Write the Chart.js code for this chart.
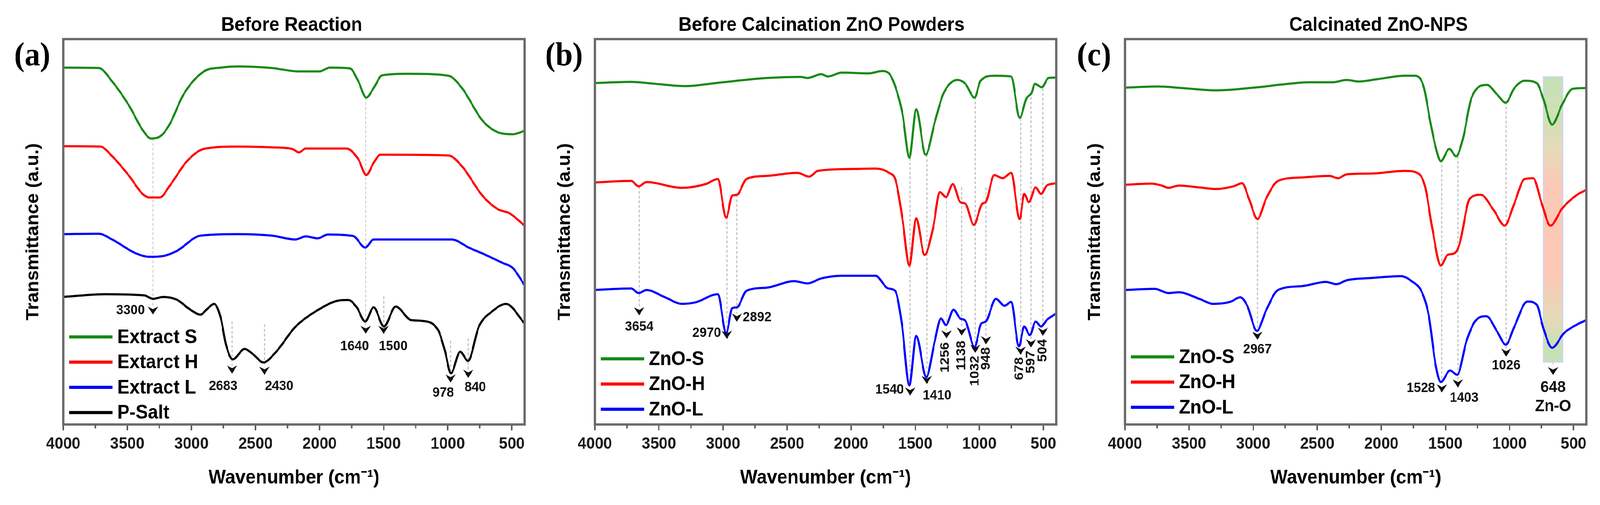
<!DOCTYPE html>
<html>
<head>
<meta charset="utf-8">
<script src="https://cdn.jsdelivr.net/npm/chart.js@4.4.1/dist/chart.umd.min.js"></script>
<style>
html, body { margin: 0; padding: 0; background: #fff; overflow: hidden; }
#page { position: absolute; left: 0; top: 0; width: 4352px; height: 1292px; transform-origin: 0 0; }
.panel { position: absolute; top: 0; width: 1446px; height: 1292px; }
</style>
</head>
<body>
<div id="page">
<div class="panel" style="left:0px"><canvas id="chartA"></canvas></div>
<div class="panel" style="left:1446px"><canvas id="chartB"></canvas></div>
<div class="panel" style="left:2888px"><canvas id="chartC"></canvas></div>
</div>
<script>
// the window is narrower than 4352, so stretch the layout onto the real viewport
var fitX = window.innerWidth / 4352, fitY = window.innerHeight / 1292;
document.getElementById('page').style.transform = 'scale(' + fitX + ',' + fitY + ')';

// ---- axis ticks ----
var xTicks = [4000, 3500, 3000, 2500, 2000, 1500, 1000, 500];
var xMinorTicks = [3750, 3250, 2750, 2250, 1750, 1250, 750];

// ---- (a) Before Reaction ----
var labelsA = ['Extract S', 'Extarct H', 'Extract L', 'P-Salt'];
var wnExtS = [4000, 3724, 3618, 3486, 3380, 3314, 3234, 3168, 3062, 2903, 2770, 2638, 2373, 2161, 2002, 1920, 1763, 1697, 1636, 1578, 1512, 1313, 995, 889, 730, 598, 492, 400];
var tExtS  = [92.6, 92.5, 89, 82.7, 76.4, 74.2, 75, 78, 85.6, 91.6, 92.6, 92.9, 92.5, 91.6, 91.6, 92.6, 92.4, 89, 84.8, 87.3, 90.6, 91, 90.5, 87.3, 78.9, 75.7, 75.3, 76.2];
var wnExtH = [4000, 3711, 3618, 3486, 3380, 3327, 3247, 3168, 3035, 2903, 2638, 2373, 2214, 2161, 2108, 1790, 1697, 1636, 1578, 1525, 995, 889, 730, 611, 518, 400];
var tExtH  = [72.2, 72.1, 69.6, 64.5, 59.8, 58.9, 58.9, 62, 68.3, 71.5, 72.1, 71.9, 71.5, 70.6, 71.6, 71.6, 68.8, 64.7, 67.9, 70, 69.8, 67, 59.4, 55.9, 54.8, 51.6];
var wnExtL = [4000, 3724, 3618, 3433, 3327, 3221, 3115, 2929, 2638, 2373, 2188, 2108, 2015, 1935, 1737, 1644, 1578, 968, 836, 704, 571, 492, 400];
var tExtL  = [49.4, 49.5, 48, 44.4, 43.5, 43.7, 45, 49, 49.4, 49, 48, 48.8, 48.3, 49.3, 48.9, 45.9, 48, 48, 45.9, 44, 41.9, 40.6, 36.1];
var wnPSalt = [4000, 3671, 3367, 3300, 3221, 3115, 3009, 2929, 2876, 2823, 2770, 2730, 2677, 2585, 2518, 2439, 2346, 2187, 2028, 1843, 1776, 1710, 1644, 1578, 1498, 1406, 1287, 1207, 1075, 1022, 975, 903, 842, 757, 651, 545, 400];
var tPSalt  = [33.1, 33.8, 33.5, 32.6, 33.1, 32.4, 29.8, 28.5, 30, 31.3, 27.5, 20.7, 16.9, 19.6, 18.2, 16.1, 18.6, 25.4, 29.4, 32.2, 32.3, 30.4, 26.7, 30.4, 25.4, 30.6, 27.1, 26.9, 24.5, 19.1, 13.3, 18.9, 16.5, 25.4, 29.4, 31.3, 26.2];

// ---- (b) Before Calcination ZnO Powders ----
var labelsZnO = ['ZnO-S', 'ZnO-H', 'ZnO-L'];
var wnPowS = [4000, 3717, 3531, 3293, 3055, 2658, 2393, 2340, 2234, 2181, 2075, 1863, 1758, 1705, 1652, 1599, 1546, 1493, 1419, 1348, 1281, 1170, 1109, 1038, 990, 884, 752, 685, 633, 593, 567, 513, 460, 400];
var tPowS  = [88.6, 88.9, 88.4, 87.8, 88.6, 89.9, 90.2, 89.9, 90.9, 90.3, 91.3, 91.1, 91.7, 91.1, 87.3, 80.5, 69.2, 81.8, 70, 78.4, 85.8, 89.4, 88.4, 84.8, 89.2, 90.5, 90.3, 79.6, 84.6, 86, 88.4, 87.5, 89.9, 90];
var wnPowH = [4000, 3717, 3658, 3598, 3320, 3134, 3041, 2975, 2928, 2891, 2817, 2658, 2420, 2327, 2261, 1997, 1811, 1705, 1652, 1599, 1546, 1493, 1427, 1361, 1308, 1260, 1207, 1149, 1109, 1043, 977, 950, 884, 817, 752, 685, 650, 614, 561, 519, 474, 400];
var tPowH  = [62.8, 63.2, 61.8, 62.9, 61.4, 62.4, 63.7, 53.7, 59.4, 59.6, 63.7, 64.5, 65.3, 64.3, 65.8, 66.3, 66.4, 65.3, 63.2, 53.1, 41.2, 53.5, 44, 51, 60.3, 59, 62.4, 57.7, 57.3, 51.8, 57.3, 57.7, 64.7, 63.9, 65.3, 53.3, 59.8, 57.7, 61.5, 59.8, 62, 62.6];
var wnPowL = [4000, 3717, 3658, 3598, 3452, 3320, 3214, 3041, 2975, 2928, 2891, 2817, 2658, 2446, 2340, 2234, 2075, 1811, 1711, 1658, 1605, 1546, 1493, 1414, 1348, 1300, 1260, 1202, 1149, 1109, 1038, 985, 950, 871, 804, 752, 691, 650, 606, 561, 519, 474, 400];
var tPowL  = [34.9, 35.3, 34.1, 34.9, 33, 31.3, 31.7, 33.8, 23.7, 30.2, 30.4, 34.7, 35.5, 37.2, 36.6, 37.9, 38.6, 38.6, 35.3, 34.7, 26.2, 10.1, 23, 12.3, 21.6, 27.5, 25.8, 29.8, 27.5, 26.9, 20.1, 26.2, 26.7, 32.6, 30.8, 31.8, 20.3, 25.4, 23.2, 26.7, 25.4, 27.1, 28.8];

// ---- (c) Calcinated ZnO-NPS ----
var wnNpS = [4000, 3741, 3554, 3287, 2966, 2779, 2565, 2378, 2271, 2178, 2031, 1817, 1737, 1670, 1617, 1577, 1536, 1470, 1416, 1363, 1296, 1176, 1096, 1029, 962, 882, 788, 735, 668, 588, 508, 400];
var tNpS  = [87.4, 87.7, 87.3, 86.7, 87.5, 88.2, 88.8, 88.8, 89.4, 89, 89.6, 90.5, 90.5, 87.7, 78.4, 72.1, 68.3, 71.5, 69.6, 74.2, 84.8, 88.1, 85.6, 83.5, 87.3, 89.2, 88.6, 84.4, 77.8, 83.1, 87.1, 87.3];
var wnNpH = [4000, 3794, 3714, 3661, 3580, 3420, 3287, 3153, 3086, 3033, 2966, 2899, 2806, 2619, 2405, 2338, 2271, 2084, 1817, 1710, 1657, 1603, 1536, 1483, 1430, 1390, 1310, 1224, 1123, 1038, 963, 882, 815, 748, 681, 588, 481, 400];
var tNpH  = [62.2, 62.5, 62, 61.4, 62, 61.5, 61.1, 61.8, 62.6, 58.6, 53.3, 58.6, 63.2, 64.1, 64.5, 63.9, 64.9, 65.1, 65.8, 65.1, 61.5, 51, 41.2, 44, 44.4, 46.8, 58.6, 59.6, 55.6, 51.6, 57.3, 63.7, 63.9, 57.3, 51.6, 56.1, 59.4, 60.9];
var wnNpL = [4000, 3768, 3661, 3580, 3420, 3313, 3180, 3100, 3046, 2971, 2899, 2806, 2619, 2432, 2351, 2271, 2084, 1844, 1764, 1683, 1630, 1577, 1536, 1464, 1408, 1336, 1270, 1181, 1096, 1029, 962, 861, 788, 735, 668, 575, 481, 400];
var tNpL  = [34.9, 35.2, 34.1, 34.3, 32.6, 31.3, 31.8, 33, 30.8, 24.3, 29.6, 34.9, 35.9, 37, 36.4, 37.4, 38, 38.5, 37.2, 34.3, 28.3, 15.6, 11, 14, 12.9, 21.6, 26.7, 28.1, 24.1, 20.7, 25.4, 31.9, 31.1, 24.9, 19.9, 23.7, 25.8, 27.1];

var GREEN = '#178a17', RED = '#ff0000', BLUE = '#0000ff', BLACK = '#000000';
var FONT = '"Liberation Sans", Arial, sans-serif';

// peak markers: wn, dashed line from/to (transmittance units), label placement
var marksA = [
    {wn: 3300, from: 74.2, tip: 29.6, text: '3300', ty: 29.6, dx: -22, align: 'right'},
    {wn: 2683, from: 26.7, tip: 14.3, text: '2683', ty: 9.9, dx: -24, align: 'center'},
    {wn: 2430, from: 26, tip: 14, text: '2430', ty: 9.9, dx: 40, align: 'center'},
    {wn: 1640, from: 84.8, tip: 24.6, text: '1640', ty: 20.2, dx: -30, align: 'center'},
    {wn: 1500, from: 33.3, tip: 24.6, text: '1500', ty: 20.2, dx: 26, align: 'center'},
    {wn: 978, from: 21.7, tip: 12, text: '978', ty: 8.2, dx: -20, align: 'center'},
    {wn: 840, from: 22.3, tip: 13.2, text: '840', ty: 9.6, dx: 19, align: 'center'}
];
var marksB = [
    {wn: 3654, from: 61.8, tip: 29.4, text: '3654', ty: 25.3, dx: 0, align: 'center'},
    {wn: 2970, from: 53.8, tip: 23.3, text: '2970', ty: 23.7, dx: -16, align: 'right'},
    {wn: 2892, from: 59.6, tip: 27.8, text: '2892', ty: 27.8, dx: 16, align: 'left'},
    {wn: 1540, from: 69.2, tip: 8.6, text: '1540', ty: 9, dx: -17, align: 'right'},
    {wn: 1410, from: 70, tip: 11.6, text: '1410', ty: 7.5, dx: 28, align: 'center'},
    {wn: 1256, from: 59.1, tip: 23.4, text: '1256', ty: 17.4, dx: -3, rot: true},
    {wn: 1138, from: 61.5, tip: 24.2, text: '1138', ty: 17.9, dx: 0, rot: true},
    {wn: 1032, from: 85, tip: 19.7, text: '1032', ty: 13.9, dx: 0, rot: true},
    {wn: 948, from: 61.5, tip: 21.9, text: '948', ty: 17.1, dx: 0, rot: true},
    {wn: 678, from: 79.5, tip: 19.2, text: '678', ty: 14.5, dx: -3, rot: true},
    {wn: 597, from: 85, tip: 21.1, text: '597', ty: 16.2, dx: 0, rot: true},
    {wn: 504, from: 87.2, tip: 24.1, text: '504', ty: 19.2, dx: 0, rot: true}
];
var marksC = [
    {wn: 2967, from: 53.7, tip: 23.1, text: '2967', ty: 19.4, dx: 0, align: 'center'},
    {wn: 1528, from: 68.6, tip: 9.4, text: '1528', ty: 9.4, dx: -18, align: 'right'},
    {wn: 1403, from: 69.6, tip: 10.7, text: '1403', ty: 6.9, dx: 17, align: 'center'},
    {wn: 1026, from: 83.7, tip: 18.7, text: '1026', ty: 15.3, dx: 0, align: 'center'},
    {wn: 660, from: 16.2, tip: 13.9, text: '648', ty: 9.6, dx: 0, align: 'center', size: 41},
    {wn: 660, text: 'Zn-O', ty: 4.6, dx: 0, align: 'center', size: 42}
];
var bandC = {from: 735, to: 585, top: 90.2, bottom: 16.2};

function drawArrow(ctx, x, y) {
    ctx.beginPath();
    ctx.moveTo(x - 14, y - 10);
    ctx.lineTo(x, y - 3);
    ctx.lineTo(x + 14, y - 10);
    ctx.lineTo(x, y + 11);
    ctx.closePath();
    ctx.fill();
}

function makeDeco(cfg) {
    return {
        id: 'deco' + cfg.letter,
        beforeDatasetsDraw: function(chart) {
            var ctx = chart.ctx, xs = chart.scales.x, ys = chart.scales.y;
            ctx.save();
            if (cfg.band) {
                var b = cfg.band;
                var x0 = xs.getPixelForValue(b.from), x1 = xs.getPixelForValue(b.to);
                var y0 = ys.getPixelForValue(b.top), y1 = ys.getPixelForValue(b.bottom);
                var g = ctx.createLinearGradient(0, y0, 0, y1);
                g.addColorStop(0, '#c6e0b6');
                g.addColorStop(0.12, '#cde0b6');
                g.addColorStop(0.25, '#e6dab8');
                g.addColorStop(0.38, '#fbc9b6');
                g.addColorStop(0.7, '#fbc9b6');
                g.addColorStop(0.85, '#e3dab8');
                g.addColorStop(0.94, '#c9e0b6');
                g.addColorStop(1, '#c6e0b6');
                ctx.fillStyle = g;
                ctx.fillRect(x0, y0, x1 - x0, y1 - y0);
                ctx.strokeStyle = '#cbd6f0';
                ctx.lineWidth = 3;
                ctx.strokeRect(x0, y0, x1 - x0, y1 - y0);
            }
            // dashed guide lines
            ctx.strokeStyle = '#c2c2c2';
            ctx.lineWidth = 3;
            ctx.setLineDash([7, 5]);
            cfg.marks.forEach(function(m) {
                if (m.from == null) return;
                var x = xs.getPixelForValue(m.wn);
                ctx.beginPath();
                ctx.moveTo(x, ys.getPixelForValue(m.from));
                ctx.lineTo(x, ys.getPixelForValue(m.tip) - 10);
                ctx.stroke();
            });
            ctx.restore();
        },
        afterDraw: function(chart) {
            var ctx = chart.ctx, xs = chart.scales.x, ys = chart.scales.y;
            var area = chart.chartArea;
            ctx.save();

            // frame
            ctx.strokeStyle = '#6c6c6c';
            ctx.lineWidth = 6;
            ctx.strokeRect(area.left, area.top, area.right - area.left, area.bottom - area.top);

            // minor ticks
            ctx.strokeStyle = '#5a5a5a';
            ctx.lineWidth = 4;
            xMinorTicks.forEach(function(v) {
                var x = xs.getPixelForValue(v);
                ctx.beginPath();
                ctx.moveTo(x, area.bottom);
                ctx.lineTo(x, area.bottom + 10);
                ctx.stroke();
            });

            // arrows and peak labels
            ctx.fillStyle = '#111';
            cfg.marks.forEach(function(m) {
                var x = xs.getPixelForValue(m.wn);
                if (m.tip != null) drawArrow(ctx, x, ys.getPixelForValue(m.tip));
                var ty = ys.getPixelForValue(m.ty);
                ctx.font = 'bold ' + (m.size || 35) + 'px ' + FONT;
                ctx.textBaseline = 'middle';
                if (m.rot) {
                    ctx.save();
                    ctx.translate(x + m.dx, ty);
                    ctx.rotate(-Math.PI / 2);
                    ctx.textAlign = 'center';
                    ctx.fillText(m.text, 0, 0);
                    ctx.restore();
                } else {
                    ctx.textAlign = m.align;
                    ctx.fillText(m.text, x + m.dx, ty);
                }
            });

            // legend
            ctx.font = 'bold 50px ' + FONT;
            ctx.textAlign = 'left';
            ctx.textBaseline = 'middle';
            chart.data.datasets.forEach(function(ds, i) {
                var y = cfg.legendY + i * 64.5;
                ctx.strokeStyle = ds.borderColor;
                ctx.lineWidth = 8;
                ctx.beginPath();
                ctx.moveTo(area.left + 16, y);
                ctx.lineTo(area.left + 134, y);
                ctx.stroke();
                ctx.fillStyle = '#000';
                ctx.fillText(ds.label, area.left + 147, y + 2);
            });

            // panel title
            ctx.font = 'bold 50px ' + FONT;
            ctx.textAlign = 'center';
            ctx.fillStyle = '#000';
            ctx.fillText(cfg.title, (area.left + area.right) / 2 + cfg.titleDx, 65);

            // panel letter
            ctx.font = 'bold 84px "Liberation Serif", "Times New Roman", serif';
            ctx.fillText('(' + cfg.letter + ')', 88, 145);
            ctx.restore();
        }
    };
}

function makeChart(id, series, cfg) {
    var datasets = series.map(function(s) {
        return {
            label: s.label,
            data: s.wn.map(function(w, i) { return {x: w, y: s.t[i]}; }),
            borderColor: s.color,
            borderWidth: 5.5,
            pointRadius: 0,
            fill: false,
            cubicInterpolationMode: 'monotone'
        };
    });
    return new Chart(document.getElementById(id), {
        type: 'line',
        data: {datasets: datasets},
        options: {
            responsive: true,
            maintainAspectRatio: false,
            devicePixelRatio: 1,
            animation: false,
            layout: {padding: {top: 100, right: 19, bottom: 0, left: 0}},
            plugins: {legend: {display: false}, tooltip: {enabled: false}, title: {display: false}},
            scales: {
                x: {
                    type: 'linear', min: 400, max: 4000, reverse: true,
                    afterFit: function(s) { s.height = 206; },
                    afterBuildTicks: function(s) { s.ticks = xTicks.map(function(v) { return {value: v}; }); },
                    ticks: {
                        callback: function(v) { return String(v); },
                        font: {family: FONT, size: 42, weight: 'bold'},
                        color: '#1a1a1a', padding: 10, maxRotation: 0, autoSkip: false
                    },
                    grid: {drawOnChartArea: false, tickLength: 15, lineWidth: 4, color: '#5a5a5a'},
                    border: {display: false},
                    title: {
                        display: true, text: 'Wavenumber (cm\u207B\u00B9)',
                        font: {family: FONT, size: 50, weight: 'bold'}, color: '#000',
                        padding: {top: 0, bottom: 39}
                    }
                },
                y: {
                    min: 0, max: 100,
                    afterFit: function(s) { s.width = 172; },
                    ticks: {display: false},
                    grid: {display: false},
                    border: {display: false},
                    title: {
                        display: true, text: 'Transmittance (a.u.)',
                        font: {family: FONT, size: 48, weight: 'bold'}, color: '#000',
                        padding: {top: 62, bottom: 0}
                    }
                }
            }
        },
        plugins: [makeDeco(cfg)]
    });
}

makeChart('chartA', [
    {label: labelsA[0], wn: wnExtS, t: tExtS, color: GREEN},
    {label: labelsA[1], wn: wnExtH, t: tExtH, color: RED},
    {label: labelsA[2], wn: wnExtL, t: tExtL, color: BLUE},
    {label: labelsA[3], wn: wnPSalt, t: tPSalt, color: BLACK}
], {letter: 'a', title: 'Before Reaction', titleDx: -6, marks: marksA, legendY: 862});

makeChart('chartB', [
    {label: labelsZnO[0], wn: wnPowS, t: tPowS, color: GREEN},
    {label: labelsZnO[1], wn: wnPowH, t: tPowH, color: RED},
    {label: labelsZnO[2], wn: wnPowL, t: tPowL, color: BLUE}
], {letter: 'b', title: 'Before Calcination ZnO Powders', titleDx: -11, marks: marksB, legendY: 918});

makeChart('chartC', [
    {label: labelsZnO[0], wn: wnNpS, t: tNpS, color: GREEN},
    {label: labelsZnO[1], wn: wnNpH, t: tNpH, color: RED},
    {label: labelsZnO[2], wn: wnNpL, t: tNpL, color: BLUE}
], {letter: 'c', title: 'Calcinated ZnO-NPS', titleDx: 62, marks: marksC, band: bandC, legendY: 913});
</script>
</body>
</html>
